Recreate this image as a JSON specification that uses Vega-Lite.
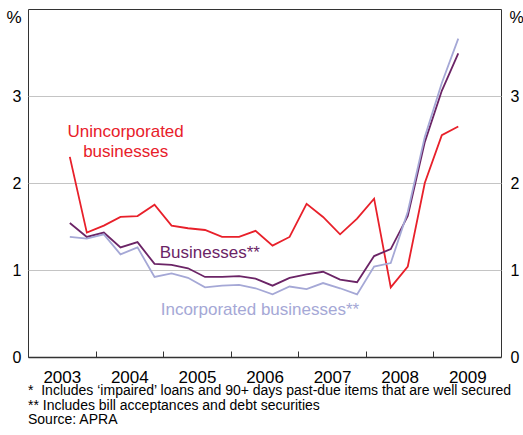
{
  "$schema": "https://vega.github.io/schema/vega-lite/v6.json",
  "width": 473,
  "height": 348,
  "autosize": "none",
  "padding": {"left": 28, "top": 9, "right": 22, "bottom": 78},
  "background": "white",
  "config": {
    "font": "Liberation Sans",
    "view": {"stroke": "#333333", "strokeWidth": 1}
  },
  "title": {
    "text": ["*\u00a0\u00a0Includes ‘impaired’ loans and 90+ days past-due items that are well secured", "** Includes bill acceptances and debt securities", "Source: APRA"],
    "orient": "bottom",
    "anchor": "start",
    "frame": "group",
    "fontSize": 14,
    "fontWeight": "normal",
    "color": "#000000",
    "lineHeight": 14.5,
    "offset": -1
  },
  "datasets": {
    "series": [
      {"date": "2003-08-15", "series": "Unincorporated", "value": 2.30},
      {"date": "2003-11-15", "series": "Unincorporated", "value": 1.43},
      {"date": "2004-02-15", "series": "Unincorporated", "value": 1.51},
      {"date": "2004-05-15", "series": "Unincorporated", "value": 1.61},
      {"date": "2004-08-15", "series": "Unincorporated", "value": 1.62},
      {"date": "2004-11-15", "series": "Unincorporated", "value": 1.75},
      {"date": "2005-02-15", "series": "Unincorporated", "value": 1.51},
      {"date": "2005-05-15", "series": "Unincorporated", "value": 1.48},
      {"date": "2005-08-15", "series": "Unincorporated", "value": 1.46},
      {"date": "2005-11-15", "series": "Unincorporated", "value": 1.38},
      {"date": "2006-02-15", "series": "Unincorporated", "value": 1.38},
      {"date": "2006-05-15", "series": "Unincorporated", "value": 1.45},
      {"date": "2006-08-15", "series": "Unincorporated", "value": 1.28},
      {"date": "2006-11-15", "series": "Unincorporated", "value": 1.38},
      {"date": "2007-02-15", "series": "Unincorporated", "value": 1.76},
      {"date": "2007-05-15", "series": "Unincorporated", "value": 1.61},
      {"date": "2007-08-15", "series": "Unincorporated", "value": 1.41},
      {"date": "2007-11-15", "series": "Unincorporated", "value": 1.59},
      {"date": "2008-02-15", "series": "Unincorporated", "value": 1.82},
      {"date": "2008-05-15", "series": "Unincorporated", "value": 0.80},
      {"date": "2008-08-15", "series": "Unincorporated", "value": 1.04},
      {"date": "2008-11-15", "series": "Unincorporated", "value": 2.00},
      {"date": "2009-02-15", "series": "Unincorporated", "value": 2.55},
      {"date": "2009-05-15", "series": "Unincorporated", "value": 2.65},
      {"date": "2003-08-15", "series": "Businesses", "value": 1.54},
      {"date": "2003-11-15", "series": "Businesses", "value": 1.38},
      {"date": "2004-02-15", "series": "Businesses", "value": 1.43},
      {"date": "2004-05-15", "series": "Businesses", "value": 1.26},
      {"date": "2004-08-15", "series": "Businesses", "value": 1.32},
      {"date": "2004-11-15", "series": "Businesses", "value": 1.07},
      {"date": "2005-02-15", "series": "Businesses", "value": 1.06},
      {"date": "2005-05-15", "series": "Businesses", "value": 1.02},
      {"date": "2005-08-15", "series": "Businesses", "value": 0.92},
      {"date": "2005-11-15", "series": "Businesses", "value": 0.92},
      {"date": "2006-02-15", "series": "Businesses", "value": 0.93},
      {"date": "2006-05-15", "series": "Businesses", "value": 0.90},
      {"date": "2006-08-15", "series": "Businesses", "value": 0.82},
      {"date": "2006-11-15", "series": "Businesses", "value": 0.91},
      {"date": "2007-02-15", "series": "Businesses", "value": 0.95},
      {"date": "2007-05-15", "series": "Businesses", "value": 0.98},
      {"date": "2007-08-15", "series": "Businesses", "value": 0.89},
      {"date": "2007-11-15", "series": "Businesses", "value": 0.86},
      {"date": "2008-02-15", "series": "Businesses", "value": 1.16},
      {"date": "2008-05-15", "series": "Businesses", "value": 1.24},
      {"date": "2008-08-15", "series": "Businesses", "value": 1.62},
      {"date": "2008-11-15", "series": "Businesses", "value": 2.47},
      {"date": "2009-02-15", "series": "Businesses", "value": 3.06},
      {"date": "2009-05-15", "series": "Businesses", "value": 3.49},
      {"date": "2003-08-15", "series": "Incorporated", "value": 1.38},
      {"date": "2003-11-15", "series": "Incorporated", "value": 1.36},
      {"date": "2004-02-15", "series": "Incorporated", "value": 1.41},
      {"date": "2004-05-15", "series": "Incorporated", "value": 1.18},
      {"date": "2004-08-15", "series": "Incorporated", "value": 1.26},
      {"date": "2004-11-15", "series": "Incorporated", "value": 0.92},
      {"date": "2005-02-15", "series": "Incorporated", "value": 0.96},
      {"date": "2005-05-15", "series": "Incorporated", "value": 0.91},
      {"date": "2005-08-15", "series": "Incorporated", "value": 0.80},
      {"date": "2005-11-15", "series": "Incorporated", "value": 0.82},
      {"date": "2006-02-15", "series": "Incorporated", "value": 0.83},
      {"date": "2006-05-15", "series": "Incorporated", "value": 0.79},
      {"date": "2006-08-15", "series": "Incorporated", "value": 0.72},
      {"date": "2006-11-15", "series": "Incorporated", "value": 0.81},
      {"date": "2007-02-15", "series": "Incorporated", "value": 0.78},
      {"date": "2007-05-15", "series": "Incorporated", "value": 0.85},
      {"date": "2007-08-15", "series": "Incorporated", "value": 0.79},
      {"date": "2007-11-15", "series": "Incorporated", "value": 0.72},
      {"date": "2008-02-15", "series": "Incorporated", "value": 1.04},
      {"date": "2008-05-15", "series": "Incorporated", "value": 1.08},
      {"date": "2008-08-15", "series": "Incorporated", "value": 1.67},
      {"date": "2008-11-15", "series": "Incorporated", "value": 2.53},
      {"date": "2009-02-15", "series": "Incorporated", "value": 3.15},
      {"date": "2009-05-15", "series": "Incorporated", "value": 3.66}
    ],
    "labels": [
      {"date": "2004-06-12", "value": 2.525, "series": "Unincorporated", "label": ["Unincorporated", "businesses"]},
      {"date": "2005-09-10", "value": 1.14, "series": "Businesses", "label": ["Businesses**"]},
      {"date": "2006-06-08", "value": 0.483, "series": "Incorporated", "label": ["Incorporated businesses**"]}
    ]
  },
  "resolve": {"axis": {"y": "independent"}},
  "layer": [
    {
      "data": {"name": "series"},
      "mark": {"type": "line", "strokeWidth": 1.8},
      "encoding": {
        "x": {
          "field": "date", "type": "temporal",
          "scale": {"domain": [{"year": 2003, "month": 1, "date": 1}, {"year": 2010, "month": 1, "date": 1}]},
          "axis": {
            "title": null,
            "values": [
              {"year": 2003, "month": 1, "date": 1}, {"year": 2004, "month": 1, "date": 1},
              {"year": 2005, "month": 1, "date": 1}, {"year": 2006, "month": 1, "date": 1},
              {"year": 2007, "month": 1, "date": 1}, {"year": 2008, "month": 1, "date": 1},
              {"year": 2009, "month": 1, "date": 1}
            ],
            "format": "%Y",
            "labelOffset": 33.8,
            "labelFontSize": 17,
            "labelColor": "#000000",
            "labelPadding": 18,
            "tickSize": -6,
            "tickColor": "#333333",
            "domain": true,
            "domainColor": "#333333",
            "domainWidth": 1.5,
            "grid": false,
            "labelFlush": false
          }
        },
        "y": {
          "field": "value", "type": "quantitative",
          "scale": {"domain": [0, 4], "nice": false},
          "axis": {
            "orient": "left",
            "values": [0, 1, 2, 3],
            "title": "%",
            "titleAngle": 0,
            "titleAlign": "right",
            "titleBaseline": "middle",
            "titleX": -7,
            "titleY": 8,
            "titleFontSize": 17,
            "titleFontWeight": "normal",
            "titleColor": "#000000",
            "labelFontSize": 16,
            "labelColor": "#000000",
            "labelPadding": 7,
            "ticks": false,
            "domain": false,
            "grid": true,
            "gridColor": "#c4c4c4",
            "gridWidth": 1.2
          }
        },
        "color": {
          "field": "series", "type": "nominal", "legend": null,
          "scale": {"domain": ["Unincorporated", "Businesses", "Incorporated"], "range": ["#e8202a", "#6b2466", "#a5a8d6"]}
        },
        "order": {"value": 0}
      }
    },
    {
      "data": {"name": "labels"},
      "mark": {"type": "text", "fontSize": 17, "align": "center", "baseline": "alphabetic", "lineHeight": 20},
      "encoding": {
        "x": {"field": "date", "type": "temporal"},
        "y": {
          "field": "value", "type": "quantitative",
          "axis": {
            "orient": "right",
            "values": [0, 1, 2, 3],
            "title": "%",
            "titleAngle": 0,
            "titleAlign": "left",
            "titleBaseline": "middle",
            "titleX": 8,
            "titleY": 8,
            "titleFontSize": 16,
            "titleFontWeight": "normal",
            "titleColor": "#000000",
            "labelFontSize": 16,
            "labelColor": "#000000",
            "labelPadding": 9,
            "ticks": false,
            "domain": false,
            "grid": false
          }
        },
        "text": {"field": "label"},
        "color": {"field": "series", "type": "nominal", "legend": null}
      }
    }
  ]
}
